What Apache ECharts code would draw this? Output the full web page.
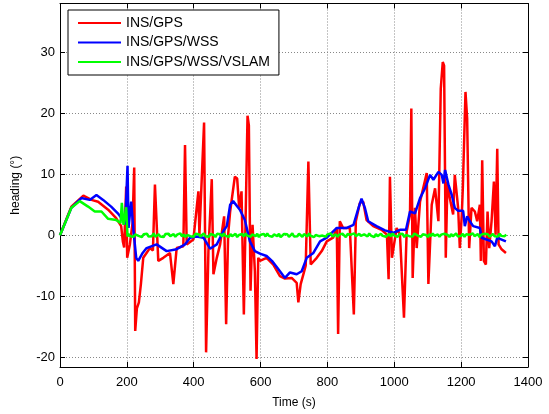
<!DOCTYPE html>
<html>
  <head>
    <title></title>
    <meta charset="UTF-8" />
    <script src="https://cdn.jsdelivr.net/npm/echarts@6.0.0/dist/echarts.min.js"></script>
  </head>
  <body style="margin:0">
    <div id="main"></div>
    <script>
      const width = 549;
      const height = 414;
      const main = document.getElementById('main');
      main.style.width = `${width}px`;
      main.style.height = `${height}px`;

      const seriesNames = ['INS/GPS', 'INS/GPS/WSS', 'INS/GPS/WSS/VSLAM'];
      const xTicks = [0, 200, 400, 600, 800, 1000, 1200, 1400];
      const yTicks = [-20, -10, 0, 10, 20, 30];

      // [time (s), heading (deg)]
      const insGps = [
        [0,0],[34,4.7],[70,6.5],[94,5.8],[114,5.5],[144,4.2],[168,2.8],[183,1.5],[188,-1],[192,-2],
        [198,8.0],[201,-3.7],[209,-1.5],[217,2],[222,11.1],[225,-15.7],[230,-12],[236,-11],[242,-8],
        [249,-3.7],[269,-2.1],[278,-2.5],[284,8.3],[294,-4.2],[309,-3.7],[329,-2.9],[339,-8],[349,-2.1],
        [369,-1.8],[374,14.8],[379,-1.5],[399,-0.7],[414,7.2],[417,0],[431,18.5],[437,-19.2],[444,-2.6],
        [454,9.2],[459,-6.4],[469,-3.7],[479,-1.5],[491,3.1],[497,-14.6],[503,0.1],[509,3.9],[523,9.6],
        [530,9.3],[536,4.5],[543,7.2],[550,-13],[556,5.0],[561,19.6],[565,18],[570,-9.1],[576,1.7],
        [583,-5.9],[588,-20.3],[593,-3.7],[598,-4.2],[618,-3.7],[638,-4.8],[658,-6.7],[673,-7.1],
        [693,-7],[708,-7.8],[713,-11],[720,-8],[728,-6.4],[735,-5],[743,12.1],[750,-4.8],[768,-3.7],
        [783,-2.6],[798,-1],[817,-0.4],[828,1.2],[832,-16.2],[837,2.3],[847,1.2],[867,1.2],[879,-13],
        [885,2.3],[897,5.3],[907,5.5],[917,2.5],[937,1.5],[962,0.9],[978,0.1],[983,-7.2],[987,9.6],
        [993,-3.7],[1007,1.2],[1017,0.1],[1029,-13.5],[1037,0.6],[1047,3.4],[1051,20.8],[1055,-7],
        [1062,4.5],[1067,-2.1],[1077,5.5],[1092,9],[1097,10.2],[1102,-8],[1112,5],[1122,7.7],
        [1132,2.3],[1139,24],[1145,28.4],[1149,27.8],[1154,-3.7],[1159,8.8],[1166,6.1],[1176,3.4],
        [1181,9.9],[1191,4.5],[1196,-2.1],[1202,3.4],[1205,7.7],[1213,23.5],[1218,19.1],[1224,-2.1],
        [1231,4.5],[1241,3.9],[1248,2.3],[1256,5],[1259,-4.2],[1263,12.3],[1268,-4.2],[1274,-4.8],
        [1279,3.9],[1284,-2.1],[1291,2.3],[1298,8.8],[1303,0.1],[1308,14.2],[1312,-1.5],[1321,-2.3],
        [1334,-2.9]
      ];

      const insGpsWss = [
        [0,0],[34,4.5],[64,6.1],[89,5.8],[109,6.6],[129,5.8],[153,4.7],[173,3.6],[188,2.5],[195,1.8],
        [202,11.4],[205,1.2],[213,5.5],[220,0.6],[228,-3.7],[234,-4.2],[246,-3],[259,-2.1],[289,-1.5],
        [319,-2.6],[349,-2.3],[374,-1.5],[389,-0.4],[409,-0.2],[429,-0.4],[449,-2.2],[469,-1.5],
        [489,0.7],[499,1.5],[509,5.0],[518,5.6],[538,4.2],[553,2.5],[568,-1],[583,-2.6],[598,-3],
        [618,-3.4],[634,-4.2],[654,-5.6],[673,-7],[688,-6.1],[708,-6.4],[723,-5.9],[738,-3.7],
        [758,-2.9],[778,-1],[798,-0.4],[828,1.2],[858,1.2],[878,1.7],[893,4.5],[902,6.0],[912,4.5],
        [922,2.3],[947,1.5],[972,0.8],[997,0.4],[1017,0.9],[1035,0.9],[1047,3.9],[1062,3.6],
        [1077,6.1],[1092,7.7],[1107,9.9],[1117,9.1],[1132,10.4],[1142,9.9],[1147,8.5],[1152,10.7],
        [1162,8.3],[1172,6.6],[1181,4.5],[1191,4.0],[1206,4.0],[1211,1.5],[1218,3.1],[1226,2.3],
        [1236,1.5],[1256,1.2],[1261,-0.4],[1276,-0.7],[1291,-1],[1301,-1.8],[1308,-0.4],[1321,-0.7],
        [1334,-1]
      ];

      const vslamStart = [
        [0,0],[34,4.5],[59,5.6],[84,4.7],[104,3.9],[124,3.9],[144,2.7],[168,2.5],[181,2.0],
        [185,5.3],[190,1.7],[198,4.6],[202,-0.2]
      ];
      // after 205 s the VSLAM heading stays in a thin band around zero, one value every 5 s
      const vslamNoise = [
        0.2,-0.15,0.05,-0.25,0.15,0.3,-0.1,0,-0.3,0.15,-0.05,0.25,-0.2,0.1,-0.15,0.3,-0.25,0.05,0.15,-0.2,
        0.1,-0.3,0.2,-0.05,0.25,-0.15,0,0.2,-0.25,0.1,-0.1,0.3,-0.2,0.15,-0.3,0.05,0.2,-0.15,0.1,-0.25,
        0.25,-0.05,0.15,-0.2,0,0.3,-0.15,0.1,-0.25,0.2,-0.1,0.05,-0.3,0.25,-0.05,0.15,-0.2,0.3,-0.1,0,
        -0.25,0.2,-0.15,0.1,0.25,-0.3,0.05,-0.1,0.2,-0.2,0.3,-0.05,0.1,-0.25,0.15,0,-0.15,0.25,-0.3,0.1,
        -0.05,0.2,-0.2,0.3,-0.1,0.05,-0.25,0.15,0.1,-0.15,0.25,-0.3,0,0.2,-0.1,0.15,-0.25,0.05,0.3,-0.2,
        0.1,-0.15,0.25,-0.05,-0.25,0.2,0,-0.2,0.3,-0.1,0.15,-0.3,0.05,0.25,-0.15,0.1,-0.05,0.2,-0.25,0.15,
        -0.1,0.3,-0.2,0.05,0.15,-0.25,0.1,-0.15,0.25,0,-0.3,0.2,-0.05,0.1,-0.2,0.3,-0.15,0.05,0.25,-0.1,
        -0.25,0.15,0,-0.2,0.3,-0.05,0.1,-0.3,0.2,-0.15,0.05,0.25,-0.1,0.15,-0.25,0,0.2,-0.2,0.3,-0.05,
        0.1,-0.25,0.15,-0.1,0.25,-0.3,0.05,0.2,-0.15,0.1,-0.2,0.3,0,-0.05,0.25,-0.25,0.15,-0.1,0.05,-0.3,
        0.2,-0.15,0.3,-0.1,0,0.15,-0.25,0.1,-0.2,0.25,-0.05,0.05,-0.3,0.2,-0.15,0.1,0.3,-0.2,0,-0.1,
        0.25,-0.25,0.15,-0.05,0.1,-0.2,0.3,-0.15,0.05,0.2,-0.3,0.1,-0.1,0.25,-0.05,0.15,-0.25,0,0.2,-0.15,
        0.1,-0.2,0.25,-0.1,0.05,-0.15,0.1
      ];
      const insGpsWssVslam = vslamStart.concat(vslamNoise.map((v, i) => [205 + i * 5, v]));

      const colors = ['#ff0000', '#0000ff', '#00ff00'];
      const font = "'Liberation Sans', Arial, sans-serif";

      const xBase = {
        type: 'value', min: 0, max: 1400, interval: 200,
        axisLine: { show: true, onZero: false, lineStyle: { color: '#000', width: 1 } },
        axisTick: { show: true, inside: true, length: 5, lineStyle: { color: '#000' } },
        splitLine: { show: false },
      };
      const yBase = {
        type: 'value', min: -21.6, max: 38,
        axisLine: { show: true, onZero: false, lineStyle: { color: '#000', width: 1 } },
        axisTick: { show: true, inside: true, length: 5, customValues: yTicks, lineStyle: { color: '#000' } },
        splitLine: { show: false },
      };
      const gridLine = { show: true, lineStyle: { color: '#888', type: [1, 2], width: 1 } };

      const myChart = echarts.init(main, null, { renderer: 'canvas' });
      const option = {
        animation: false,
        backgroundColor: '#fff',
        textStyle: { fontFamily: font },
        grid: { left: 60, right: 21, top: 3.5, bottom: 43 },
        legend: {
          data: seriesNames,
          orient: 'vertical',
          left: 68, top: 10,
          padding: [6, 9, 6, 10],
          itemGap: 5.5,
          itemWidth: 43, itemHeight: 2,
          icon: 'rect',
          backgroundColor: '#fff',
          borderColor: '#000', borderWidth: 1, borderRadius: 0,
          textStyle: { fontSize: 14, color: '#000', fontFamily: font },
        },
        xAxis: [
          Object.assign({}, xBase, {
            position: 'bottom',
            name: 'Time (s)', nameLocation: 'middle', nameGap: 30,
            nameTextStyle: { fontSize: 12, color: '#000' },
            axisLabel: { show: true, fontSize: 13, color: '#000', margin: 9, customValues: xTicks,
              formatter: v => String(v) },
            splitLine: gridLine,
          }),
          Object.assign({}, xBase, { position: 'top', axisLabel: { show: false } }),
        ],
        yAxis: [
          Object.assign({}, yBase, {
            position: 'left',
            name: 'heading (°)', nameLocation: 'middle', nameGap: 38,
            nameTextStyle: { fontSize: 12, color: '#000' },
            axisLabel: { show: true, fontSize: 13, color: '#000', margin: 5, customValues: yTicks,
              formatter: v => String(v) },
            splitLine: gridLine,
          }),
          Object.assign({}, yBase, { position: 'right', axisLabel: { show: false } }),
        ],
        series: [insGps, insGpsWss, insGpsWssVslam].map((d, i) => ({
          name: seriesNames[i],
          type: 'line',
          data: d,
          symbol: 'none',
          color: colors[i],
          itemStyle: { color: colors[i] },
          lineStyle: { color: colors[i], width: 2.5 },
          z: 2 + i,
        })),
      };
      myChart.setOption(option);
    </script>
  </body>
</html>
